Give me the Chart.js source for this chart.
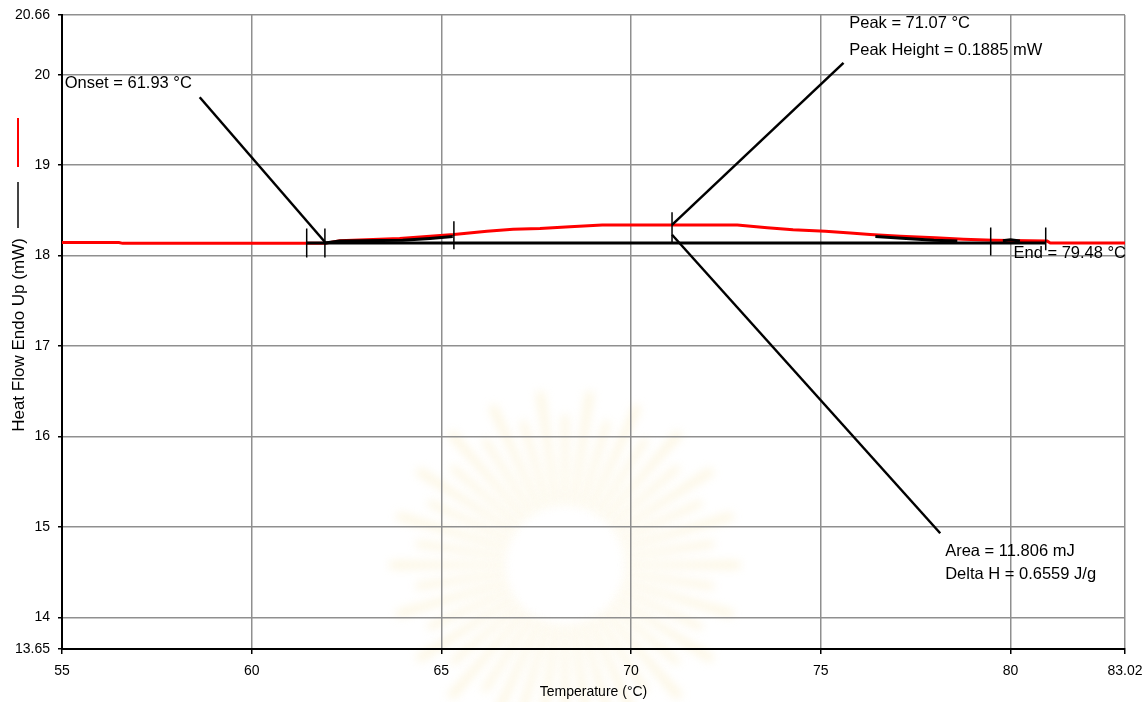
<!DOCTYPE html>
<html><head><meta charset="utf-8">
<script src="https://cdn.jsdelivr.net/npm/chart.js@4.4.1/dist/chart.umd.min.js"></script>
<style>html,body{margin:0;padding:0;background:#fff;}#wrap{width:1142px;height:702px;position:relative;}</style>
</head><body><div id="wrap"><canvas id="c" width="1142" height="702"></canvas></div>
<script>
// ---- tick values / labels ----
const xTicks = [55, 60, 65, 70, 75, 80, 83.02];
const xTickLabels = ['55', '60', '65', '70', '75', '80', '83.02'];
const yTicks = [13.65, 14, 15, 16, 17, 18, 19, 20, 20.66];
const yTickLabels = ['13.65', '14', '15', '16', '17', '18', '19', '20', '20.66'];

// ---- red heat flow curve ----
const redX = [55, 56.5, 56.6, 61.93, 62.32, 63.9, 65.33, 66.2, 66.89, 67.6, 68.39, 69.24, 71.08, 72.8, 73.59, 74.27, 75.12, 75.78, 76.3, 77.1, 78.02, 78.76, 79.55, 80.97, 81.05, 83.02];
const redY = [18.145, 18.145, 18.135, 18.135, 18.163, 18.19, 18.234, 18.27, 18.29, 18.30, 18.32, 18.337, 18.337, 18.337, 18.307, 18.285, 18.27, 18.25, 18.234, 18.215, 18.196, 18.18, 18.17, 18.16, 18.14, 18.14];

// ---- black curve pieces (null = gap) ----
const blackX = [61.93, 62.32, 63.98, 64.7, 65.3, 65.31, 76.44, 77.25, 77.98, 78.6, 78.61, 79.8, 80.0, 80.25];
const blackY = [18.14, 18.16, 18.17, 18.19, 18.21, null, 18.21, 18.19, 18.17, 18.16, null, 18.165, 18.175, 18.16];

// ---- baseline ----
const baseX = [61.45, 80.93];
const baseY = [18.14, 18.14];

// ---- vertical limit markers ----
const markerX = [61.45, 61.93, 65.33, 71.08, 79.48, 80.93];
const markerLo = [17.98, 17.98, 18.07, 18.15, 18.00, 18.06];
const markerHi = [18.30, 18.30, 18.38, 18.48, 18.31, 18.31];

// ---- annotation leader lines ----
const onsetLineX = [58.63, 61.93], onsetLineY = [19.75, 18.15];
const peakLineX = [71.08, 75.6], peakLineY = [18.34, 20.13];
const areaLineX = [71.08, 78.15], areaLineY = [18.23, 14.93];

// ---- annotation texts (data coords of text start / baseline) ----
const labelTexts = ['Onset = 61.93 °C', 'Peak = 71.07 °C', 'Peak Height = 0.1885 mW', 'End = 79.48 °C', 'Area = 11.806 mJ', 'Delta H = 0.6559 J/g'];
const labelX = [55.07, 75.75, 75.75, 80.08, 78.28, 78.28];
const labelY = [19.85, 20.516, 20.218, 17.97, 14.676, 14.42];

const xTitle = 'Temperature (°C)';
const yTitle = 'Heat Flow Endo Up (mW)';

const pts = (xs, ys) => xs.map((x, i) => ({x, y: ys[i]}));
const markerPts = [];
markerX.forEach((x, i) => { markerPts.push({x, y: markerLo[i]}, {x, y: markerHi[i]}, {x, y: null}); });

const line = (data, color, w) => ({data, borderColor: color, backgroundColor: color, borderWidth: w, showLine: true, pointRadius: 0, fill: false, spanGaps: false, tension: 0});

const FONT = '"Liberation Sans", Arial, sans-serif';

const deco = {
  id: 'deco',
  beforeDraw(chart) {
    const ctx = chart.ctx;
    ctx.save();
    ctx.filter = 'blur(5px)';
    const cx = 565, cy = 565;
    ctx.fillStyle = 'rgba(247,226,165,0.36)';
    const n = 44;
    for (let i = 0; i < n; i++) {
      const a = i / n * Math.PI * 2;
      const da = 0.035;
      const r0 = 60, r1 = (i % 2 ? 150 : 175);
      ctx.beginPath();
      ctx.moveTo(cx + r0 * Math.cos(a - da), cy + r0 * Math.sin(a - da));
      ctx.lineTo(cx + r1 * Math.cos(a - da * 0.6), cy + r1 * Math.sin(a - da * 0.6));
      ctx.lineTo(cx + r1 * Math.cos(a + da * 0.6), cy + r1 * Math.sin(a + da * 0.6));
      ctx.lineTo(cx + r0 * Math.cos(a + da), cy + r0 * Math.sin(a + da));
      ctx.closePath();
      ctx.fill();
    }
    ctx.restore();
  },
  afterDraw(chart) {
    const ctx = chart.ctx, xs = chart.scales.x, ys = chart.scales.y;
    ctx.save();
    ctx.fillStyle = '#000';
    ctx.font = '16.5px ' + FONT;
    ctx.textAlign = 'left';
    ctx.textBaseline = 'alphabetic';
    labelTexts.forEach((t, i) => {
      ctx.fillText(t, xs.getPixelForValue(labelX[i]), ys.getPixelForValue(labelY[i]));
    });
    // x title
    ctx.font = '14px ' + FONT;
    ctx.textAlign = 'center';
    ctx.textBaseline = 'middle';
    ctx.fillText(xTitle, (chart.chartArea.left + chart.chartArea.right) / 2, 692);
    // y title
    ctx.save();
    ctx.translate(19, 335);
    ctx.rotate(-Math.PI / 2);
    ctx.font = '17px ' + FONT;
    ctx.fillText(yTitle, 0, 0);
    ctx.restore();
    // legend swatches
    ctx.lineWidth = 2;
    ctx.strokeStyle = '#ff0000';
    ctx.beginPath(); ctx.moveTo(18, 118); ctx.lineTo(18, 167); ctx.stroke();
    ctx.strokeStyle = '#444';
    ctx.beginPath(); ctx.moveTo(18, 182); ctx.lineTo(18, 228); ctx.stroke();
    ctx.restore();
  }
};

new Chart(document.getElementById('c'), {
  type: 'scatter',
  data: {
    datasets: [
      line(pts(onsetLineX, onsetLineY), '#000', 2.5),
      line(pts(peakLineX, peakLineY), '#000', 2.5),
      line(pts(areaLineX, areaLineY), '#000', 2.5),
      line(markerPts, '#000', 1.5),
      line(pts(baseX, baseY), '#000', 3),
      line(pts(blackX, blackY), '#000', 3),
      line(pts(redX, redY), '#ff0000', 3)
    ]
  },
  options: {
    responsive: false,
    animation: false,
    devicePixelRatio: 1,
    layout: {padding: {left: 0, top: 15, right: 17, bottom: 0}},
    plugins: {legend: {display: false}, tooltip: {enabled: false}},
    scales: {
      x: {
        type: 'linear', min: 55, max: 83.02,
        afterBuildTicks(s) { s.ticks = xTicks.map(v => ({value: v})); },
        afterFit(s) { s.height = 53; s.paddingLeft = 0; s.paddingRight = 0; },
        ticks: {autoSkip: false, maxRotation: 0, color: '#000', padding: 9,
          font: {family: FONT, size: 14},
          callback: (v, i) => xTickLabels[i]},
        grid: {color: '#8f8f8f', lineWidth: 1.5, drawTicks: true, tickLength: 5, tickColor: '#000', tickWidth: 1.5},
        border: {color: '#000', width: 2},
        title: {display: false}
      },
      y: {
        type: 'linear', min: 13.65, max: 20.66,
        afterBuildTicks(s) { s.ticks = yTicks.map(v => ({value: v})); },
        afterFit(s) { s.width = 62; s.paddingTop = 0; s.paddingBottom = 0; },
        ticks: {autoSkip: false, color: '#000', padding: 8,
          font: {family: FONT, size: 14},
          callback: (v, i) => yTickLabels[i]},
        grid: {color: '#8f8f8f', lineWidth: 1.5, drawTicks: true, tickLength: 4, tickColor: '#000', tickWidth: 1.5},
        border: {color: '#000', width: 2},
        title: {display: false}
      }
    }
  },
  plugins: [deco]
});
</script>
</body></html>
